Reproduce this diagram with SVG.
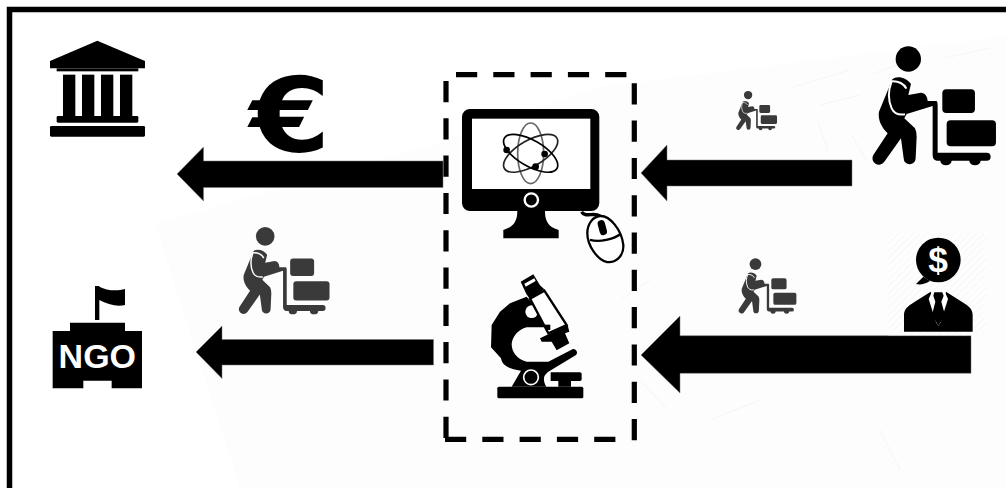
<svg xmlns="http://www.w3.org/2000/svg" xmlns:xlink="http://www.w3.org/1999/xlink" width="1006" height="488" viewBox="0 0 1006 488">
<style>
.ink{fill:#000}
.paper{fill:#fff}
.dash{fill:none;stroke:#000;stroke-width:5.2;stroke-dasharray:21.2 16.1}
.arrow{fill:#000;stroke:#777;stroke-width:.5}
.lab{font-family:"Liberation Sans",Arial,sans-serif;font-weight:700;fill:#fff}
.trace{fill:none;stroke:#f6f6f6;stroke-width:1}
</style>
<defs>
<pattern id="hatch" width="5" height="5" patternUnits="userSpaceOnUse" patternTransform="rotate(-45)">
<rect width="5" height="5" fill="#fefefe"/><rect width="5" height="1.2" fill="#f8f8f8"/>
</pattern>
<symbol id="worker" viewBox="0 0 1000 500" width="1000" height="500" overflow="visible">
<g transform="translate(495,0)">
<circle cx="130" cy="57" r="38"/>
<path d="M82 118C95 105 125 112 138 132L130 165L168 158C180 158 188 170 188 183L215 183Q218 185 218 195L218 338L365 338A12 12 0 0 1 365 362L347 362A17 14 0 0 1 313 362L260 362A17 14 0 0 1 226 362L215 362Q203 360 203 345L203 198L125 222L118 235L150 265Q155 275 155 290L152 355A18 18 0 0 1 116 355L108 295L58 365A19 19 0 0 1 25 345L68 280C50 262 38 240 42 215Z"/>
<rect x="232" y="148" width="98" height="71" rx="12"/>
<rect x="245" y="241" width="148" height="78" rx="12"/>
<path d="M124 146C118 132 100 122 80 124C70 150 68 178 80 205C86 218 100 226 120 223" fill="none" stroke="#fff" stroke-width="6"/>
</g>
</symbol>
</defs>

<g id="background">
<rect width="1006" height="488" fill="#fff"/>
<path d="M155 224L450 140L597 87L1006 36V488H240Z" fill="#fdfdfd"/>
<path class="trace" d="M790 88L850 70M870 75L905 62M945 58L990 48M820 105L860 95M818 122L828 150M852 135L866 160M620 300L650 280M640 380L668 410M880 430L900 470M710 420L760 400"/>
</g>

<g id="frame"><path d="M9.5 488V9.5H1006" fill="none" stroke="#000" stroke-width="5.5"/></g>

<g id="connectors">
<polygon class="arrow" points="177,174 203.5,147 203.5,161 443,161 443,187.5 203.5,187.5 203.5,201"/>
<polygon class="arrow" points="641,173 667,145 667,160 852,160 852,186 667,186 667,201"/>
<polygon class="arrow" points="196,352 222,326 222,339.5 433.5,339.5 433.5,365 222,365 222,378.5"/>
<polygon class="arrow" points="641,355 680,316 680,335.7 971,335.7 971,373.3 680,373.3 680,393"/>
</g>

<g id="boundary">
<path class="dash" d="M456 74.7H627"/>
<path class="dash" d="M446 81V439"/>
<path class="dash" d="M634.3 83.3V442"/>
<path class="dash" d="M445 439.3H617"/>
</g>

<g id="bank" class="ink" transform="scale(.3333)">
<path d="M292 122L435 183V205H150V183Z"/>
<rect x="170" y="205" width="245" height="9"/>
<rect x="189" y="224" width="37" height="125"/><rect x="246" y="224" width="37" height="125"/>
<rect x="303" y="224" width="37" height="125"/><rect x="360" y="224" width="37" height="125"/>
<rect x="170" y="348" width="245" height="20" rx="4"/>
<rect x="150" y="378" width="285" height="32" rx="4"/>
</g>

<g id="euro"><text transform="translate(290,151.5) scale(1.1,.98)" text-anchor="middle" font-family="'DejaVu Sans',sans-serif" font-weight="700" font-size="106" fill="#000">€</text></g>

<g id="ngo" transform="translate(30,220) scale(.3333)">
<path class="ink" d="M195 198H208V300H195ZM208 200C230 212 260 214 285 207V255C260 262 232 252 208 240Z"/>
<path class="ink" d="M120 308H285V333H336V505H245V482H160V505H68V333H120Z"/>
<text class="lab" x="202" y="445" text-anchor="middle" font-size="102">NGO</text>
</g>

<g id="worker-left" fill="#3a3a3a" transform="translate(112.4,222.4) scale(.2445)"><use xlink:href="#worker" href="#worker"/></g>
<g id="worker-top-small" fill="#3a3a3a" transform="translate(679.35,88.8) scale(.11)"><use xlink:href="#worker" href="#worker"/></g>
<g id="worker-bottom-small" fill="#3a3a3a" transform="translate(658.2,255.2) scale(.1556)"><use xlink:href="#worker" href="#worker"/></g>
<g id="worker-top-large" fill="#000" transform="translate(700,40) scale(.3333)"><use xlink:href="#worker" href="#worker"/></g>

<g id="computer" transform="translate(430,60) scale(.3333)">
<path class="ink" d="M120 147H484A24 24 0 0 1 508 171V429A24 24 0 0 1 484 453H345C345 480 352 500 386 510V535H220V510C254 500 262 480 262 453H120A24 24 0 0 1 96 429V171A24 24 0 0 1 120 147Z"/>
<rect class="paper" x="126" y="176" width="355" height="211"/>
<circle cx="304" cy="420" r="20" fill="none" stroke="#fff" stroke-width="7"/>
<g fill="none" stroke-width="5">
<ellipse cx="302" cy="280" rx="39" ry="91" stroke="#666"/>
<ellipse cx="302" cy="280" rx="39" ry="91" stroke="#222" transform="rotate(60 302 280)"/>
<ellipse cx="302" cy="280" rx="39" ry="91" stroke="#000" transform="rotate(-60 302 280)"/>
</g>
<circle cx="230" cy="270" r="10"/><circle cx="344" cy="282" r="10"/><circle cx="317" cy="320" r="10"/>
<g fill="none" stroke="#000" stroke-width="7">
<path d="M455 455C465 475 490 455 510 468" stroke-width="10"/>
<path d="M510 468C540 466 575 510 580 555C582 590 555 610 530 606C505 600 472 560 472 520C472 490 490 470 510 468Z" fill="#fff"/>
<path d="M480 540C510 548 550 538 572 522"/>
</g>
<rect x="506" y="480" width="22" height="46" rx="11" transform="rotate(-15 517 503)"/>
</g>

<g id="microscope" transform="translate(485,270) scale(.3333)">
<rect class="ink" x="37" y="350" width="258" height="35" rx="5"/>
<path class="ink" d="M80 350L108 302C72 296 52 288 48 265L18 232L20 165L45 125L75 100L125 80L190 160L178 172H125C100 178 82 200 80 222C80 245 95 268 125 275H190L258 240A10 10 0 0 1 272 256L195 302C178 312 170 325 184 350Z"/>
<path class="ink" d="M197 307H285A5 5 0 0 1 290 312V328A5 5 0 0 1 285 333H258V350H220V333H197Z"/>
<circle cx="138" cy="322" r="22" fill="#000" stroke="#fff" stroke-width="5"/>
<circle class="paper" cx="140" cy="125" r="19"/>
<path class="paper" d="M135 86L178 62L245 165L190 190Z" stroke="#000" stroke-width="7"/>
<path class="ink" d="M107 35L145 13L165 46L178 58L134 86L124 72Z"/>
<path class="paper" d="M118 41L148 25L152 33L122 50Z"/>
<path class="ink" d="M165 205L248 165L253 185L240 190L253 220L215 241L200 215L170 215Z"/>
<rect class="ink" x="180" y="164" width="16" height="16"/>
</g>

<g id="investor">
<rect x="888.3" y="233.3" width="99" height="102" fill="url(#hatch)"/>
<g transform="translate(900,235) scale(.3333)">
<circle class="ink" cx="115" cy="75" r="67"/>
<path class="ink" d="M70 125L48 147C60 150 75 148 90 138Z"/>
<text class="lab" x="114" y="112" text-anchor="middle" font-size="106">$</text>
<path class="ink" d="M12 290V240C12 222 25 212 40 203L92 170L115 272L138 170L190 203C205 212 218 222 218 240V290Z"/>
<path class="paper" d="M95 172L86 192L108 262L115 272L122 262L144 192L135 172Z"/>
<path class="ink" d="M103 172H127L131 182L124 200L135 240L115 272L96 240L106 200L100 182Z"/>
</g>
</g>
</svg>
